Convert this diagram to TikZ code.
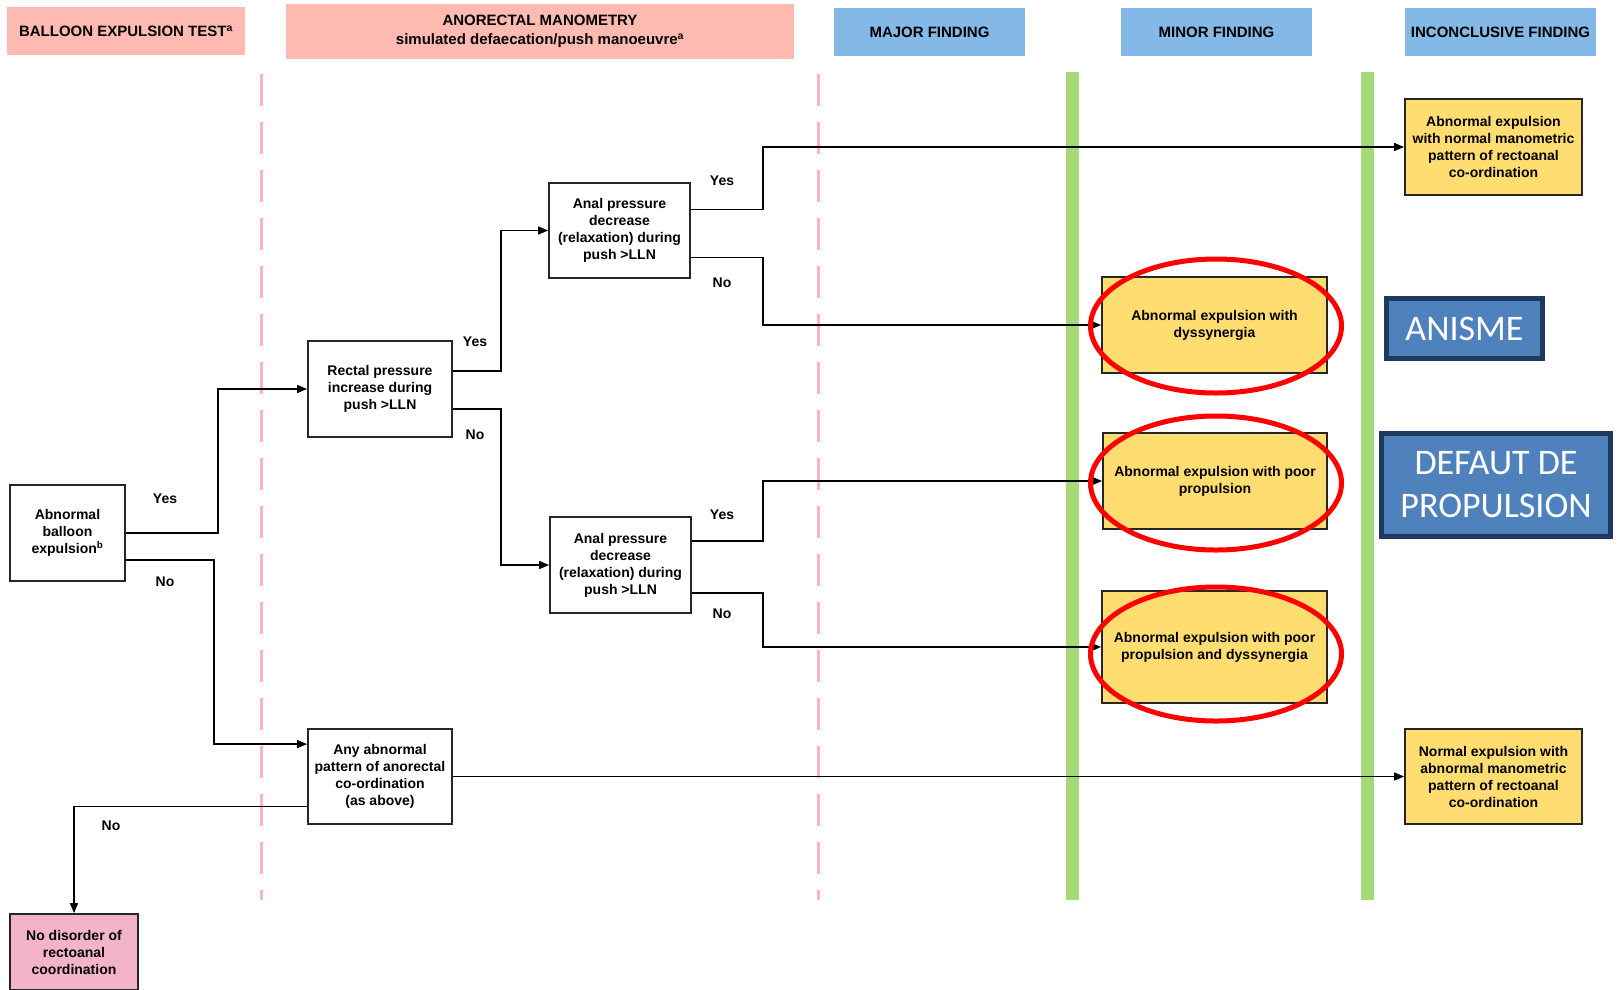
\documentclass[tikz,border=0pt]{standalone}
\usepackage{fontspec}
\setmainfont{Liberation Sans}
\newfontfamily\calibri{Carlito}
\usetikzlibrary{arrows.meta,calc}

\definecolor{hdrpink}{HTML}{FFBAB1}
\definecolor{hdrblue}{HTML}{84B8E6}
\definecolor{resyellow}{HTML}{FFDD71}
\definecolor{nopink}{HTML}{F4B4C8}
\definecolor{lanegreen}{HTML}{A3D977}
\definecolor{dashpink}{HTML}{F7B5C9}
\definecolor{tagblue}{HTML}{4F81BD}
\definecolor{tagnavy}{HTML}{1F3A60}
\definecolor{edge}{HTML}{262626}

\tikzset{
  box/.style={draw=edge, line width=1.8pt, fill=white, align=center, inner sep=0pt,
    font=\fontsize{14}{17}\selectfont\bfseries},
  result/.style={box, fill=resyellow},
  header/.style={fill=#1, align=center, inner sep=0pt, minimum width=191pt,
    minimum height=48pt, font=\fontsize{15}{18.5}\selectfont\bfseries},
  flow/.style={draw, line width=1.5pt, -{Triangle[length=10pt,width=8pt]}},
  answer/.style={font=\fontsize{14}{17}\selectfont\bfseries},
  ring/.style={draw=red, line width=5pt},
  tag/.style={draw=tagnavy, line width=5pt, fill=tagblue, text=white, align=center,
    inner sep=0pt, font=\calibri\fontsize{36}{43}\selectfont},
  divider/.style={draw=dashpink, line width=3pt, dash pattern=on 32pt off 16pt},
  lane/.style={draw=lanegreen, line width=13pt}
}

\begin{document}
\begin{tikzpicture}[x=1pt,y=-1pt]
\useasboundingbox[fill=white] (0,0) rectangle (1617,989);

% column headers
\node[header=hdrpink, minimum width=238pt] (hballoon) at (126,31) {BALLOON EXPULSION TEST\textsuperscript{a}};
\node[header=hdrpink, minimum width=508pt, minimum height=55pt] (hmano) at (540,31.5) {ANORECTAL MANOMETRY\\simulated defaecation/push manoeuvre\textsuperscript{a}};
\node[header=hdrblue] (hmajor) at (929.5,32) {MAJOR FINDING};
\node[header=hdrblue] (hminor) at (1216.5,32) {MINOR FINDING};
\node[header=hdrblue] (hinconc) at (1500.5,32) {INCONCLUSIVE FINDING};

% separators
\foreach \x in {261,818}
  \path[divider] (\x,74) -- (\x,900);
\foreach \x in {1072.5,1367}
  \path[lane] (\x,72) -- (\x,900);

% decision boxes
\node[box, minimum width=115pt, minimum height=96pt] (balloon) at (67.5,533) {Abnormal\\balloon\\expulsion\textsuperscript{b}};
\node[box, minimum width=144pt, minimum height=96pt] (rectal) at (380,389) {Rectal pressure\\increase during\\push >LLN};
\node[box, minimum width=141pt, minimum height=95pt] (analup) at (619.5,230.5) {Anal pressure\\decrease\\(relaxation) during\\push >LLN};
\node[box, minimum width=141pt, minimum height=96pt] (analdown) at (620.5,565) {Anal pressure\\decrease\\(relaxation) during\\push >LLN};
\node[box, minimum width=144pt, minimum height=95pt] (anyab) at (380,776.5) {Any abnormal\\pattern of anorectal\\co-ordination\\(as above)};
\node[box, fill=nopink, minimum width=128pt, minimum height=76pt] (nodis) at (74,952) {No disorder of\\rectoanal\\coordination};

% findings
\node[result, minimum width=177pt, minimum height=96pt] (inconc) at (1493.5,147) {Abnormal expulsion\\with normal manometric\\pattern of rectoanal\\co-ordination};
\node[result, minimum width=225pt, minimum height=96pt] (dyss) at (1214.5,325) {Abnormal expulsion with\\dyssynergia};
\node[result, minimum width=224pt, minimum height=96pt] (poorprop) at (1215,481) {Abnormal expulsion with poor\\propulsion};
\node[result, minimum width=225pt, minimum height=112pt] (both) at (1214.5,647) {Abnormal expulsion with poor\\propulsion and dyssynergia};
\node[result, minimum width=177pt, minimum height=95pt] (normal) at (1493.5,776.5) {Normal expulsion with\\abnormal manometric\\pattern of rectoanal\\co-ordination};

% connectors
\path[flow] (balloon.east) -- ++(92,0) |- (rectal.west);
\path[flow] ($(balloon.east)+(0,27)$) -- ++(88,0) |- ($(anyab.north west)+(0,16)$);
\path[flow] ($(rectal.east)+(0,-18)$) -- ++(48,0) |- (analup.west);
\path[flow] ($(rectal.east)+(0,20)$) -- ++(48,0) |- (analdown.west);
\path[flow] ($(analup.east)+(0,-21)$) -- ++(72,0) |- (inconc.west);
\path[flow] ($(analup.east)+(0,27)$) -- ++(72,0) |- (dyss.west);
\path[flow] ($(analdown.east)+(0,-24)$) -- ++(71,0) |- (poorprop.west);
\path[flow] ($(analdown.east)+(0,28)$) -- ++(71,0) |- (both.west);
\path[flow] (anyab.east) -- (normal.west);
\path[flow] ($(anyab.west)+(0,30)$) -| (nodis.north);

\node[answer] (yes1) at (165,499) {Yes};
\node[answer] (no1) at (165,582) {No};
\node[answer] (yes2) at (475,342) {Yes};
\node[answer] (no2) at (475,435) {No};
\node[answer] (yes3) at (722,180.5) {Yes};
\node[answer] (no3) at (722,282.5) {No};
\node[answer] (yes4) at (722,514.5) {Yes};
\node[answer] (no4) at (722,613.5) {No};
\node[answer] (no5) at (111,826) {No};

% highlights
\path[ring] (1216,326) ellipse [x radius=125.5pt, y radius=67pt];
\path[ring] (1216,483) ellipse [x radius=125.5pt, y radius=67pt];
\path[ring] (1216,654) ellipse [x radius=125.5pt, y radius=67pt];

\node[tag, minimum width=156pt, minimum height=60pt] (anisme) at (1464.5,328.5) {ANISME};
\node[tag, minimum width=229pt, minimum height=103pt] (defaut) at (1496,485) {DEFAUT DE\\PROPULSION};
\end{tikzpicture}
\end{document}
